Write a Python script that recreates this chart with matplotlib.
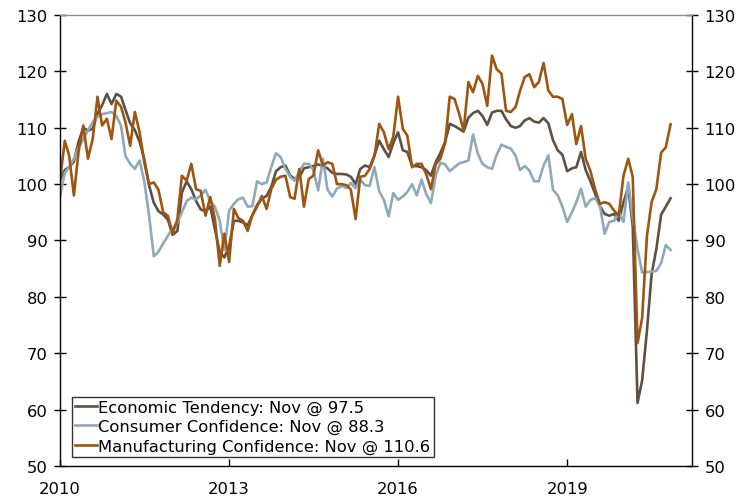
import matplotlib
matplotlib.use("Agg")
import matplotlib.pyplot as plt
import matplotlib.dates as mdates
import pandas as pd

# monthly readings, Jan 2010 .. Nov 2020
economic_tendency = [
    100.8, 102.5, 103, 104, 107.5, 110, 109.5, 109.8, 112.5, 114, 116, 114.2,
    116, 115.5, 113.2, 110.8, 109.6, 107.5, 104.5, 99.8, 96.7, 95.2, 94.6, 93.7,
    91, 91.7, 98.5, 100.5, 99.1, 97, 95.5, 95.2, 96, 92, 88, 87,
    89, 93.5, 93.5, 93.2, 92.7, 94.5, 96.3, 97.4, 97.9, 99.5, 102.3, 103,
    103.3, 101.5, 101, 101.2, 102.8, 103, 103.2, 103.5, 103.2, 102.8, 102, 101.8,
    101.8, 101.7, 101.3, 100, 102.7, 103.3, 103, 105.1, 107.7, 106.2, 104.8, 107.3,
    109.2, 106, 105.7, 103.2, 103.2, 103, 102.5, 101.5, 103.9, 105.5, 107.5, 110.7,
    110.3, 109.8, 109.3, 111.8, 112.6, 113, 112.1, 110.5, 112.7, 113, 113, 111.5,
    110.3, 110, 110.3, 111.3, 111.7, 111.1, 110.9, 111.7, 110.8, 107.8, 106, 105.2,
    102.3, 102.8, 103, 105.7, 102.5, 100.5, 98.3, 96.1, 94.7, 94.4, 94.7, 93.5,
    96.8, 99.5, 92.5, 61.2, 65.2, 74, 84, 88.5, 94.6, 96, 97.5,
]
consumer_confidence = [
    97.8, 102, 103, 104.5, 106.5, 108, 109.5, 111, 112, 112.4, 112.6, 112.8,
    112.1, 110.3, 105, 103.6, 102.7, 104.2, 100.5, 94.5, 87.2, 88, 89.5, 90.8,
    92.2, 93.2, 95, 97, 97.6, 97.3, 98, 99, 97, 96, 93.5, 88.3,
    95.3, 96.5, 97.3, 97.6, 96, 96.1, 100.5, 100, 100.3, 103, 105.5, 104.8,
    102.7, 101.3, 100.6, 102.2, 103.6, 103.6, 102.5, 98.9, 104.5, 99, 97.8, 99.2,
    99.7, 99.3, 100.2, 99.3, 100.8, 99.8, 99.7, 103, 98.7, 97.2, 94.3, 98.4,
    97.2, 97.8, 98.6, 100, 98, 100.8, 98.3, 96.6, 101.5, 103.8, 103.5, 102.3,
    103, 103.7, 103.9, 104.2, 108.8, 105.4, 103.6, 103, 102.7, 105.2, 107, 106.6,
    106.3, 105, 102.5, 103.2, 102.4, 100.5, 100.5, 103.3, 105.1, 99, 98, 96,
    93.3, 95, 96.8, 99.2, 96, 97.2, 97.5, 96.2, 91.2, 93.3, 93.5, 95,
    93.3, 100.3, 94, 88.5, 84.3, 84.4, 84.5, 84.6, 86, 89.2, 88.3,
]
manufacturing_confidence = [
    100.6, 107.7, 105.1, 98, 105.7, 110.4, 104.5, 108, 115.5, 110.4, 111.6, 108,
    114.8, 113.7, 111, 106.8, 112.8, 109.2, 103.9, 100, 100.3, 99, 95, 94.4,
    91.2, 93.8, 101.5, 100.6, 103.6, 99.1, 98.8, 94.4, 97.7, 93.8, 85.5, 91.2,
    86.2, 95.6, 94, 93.5, 91.7, 94.5, 96, 97.9, 95.6, 99.1, 100.8, 101.3,
    101.5, 97.7, 97.4, 102.7, 96, 100.9, 101.5, 106, 103.3, 103.9, 103.6, 100,
    100, 99.8, 99, 93.8, 101.3, 101.5, 102.7, 105, 110.7, 109.2, 106.2, 108.4,
    115.5, 109.8, 108.6, 103, 103.6, 103.6, 101.8, 99.1, 103.6, 104.5, 107.3, 115.5,
    115.1, 112.4, 109.5, 118.1, 116.3, 119.2, 117.8, 113.9, 122.8, 120.4, 119.6, 113,
    112.8, 113.7, 116.5, 119, 119.5, 117.2, 118.1, 121.5, 116.6, 115.5, 115.5, 115.1,
    110.5, 112.4, 107.1, 110.3, 104.5, 102.3, 99.1, 96.5, 96.8, 96.5, 95.3, 94.4,
    101.5, 104.5, 101.3, 71.8, 76.3, 90.8, 96.8, 99.1, 105.6, 106.5, 110.6,
]
dates = pd.date_range("2010-01-01", periods=len(economic_tendency), freq="MS")
year_ticks = ["2010", "2013", "2016", "2019"]
y_ticks = list(range(50, 131, 10))

plt.rcParams["font.family"] = ["DejaVu Sans"]
plt.rcParams["font.size"] = 11.8

fig = plt.figure(figsize=(7.52, 5.02), dpi=100)
ax = fig.add_axes([60 / 752, 1 - 467 / 502, 632 / 752, 451 / 502])

last = dates[-1].strftime("%b")
ax.plot(dates, economic_tendency, color="#5e5047", lw=1.9,
        label=f"Economic Tendency: {last} @ {economic_tendency[-1]}")
ax.plot(dates, consumer_confidence, color="#8ea9b9", lw=1.9,
        label=f"Consumer Confidence: {last} @ {consumer_confidence[-1]}")
ax.plot(dates, manufacturing_confidence, color="#9e550f", lw=1.9,
        label=f"Manufacturing Confidence: {last} @ {manufacturing_confidence[-1]}")

ax.set_ylim(50, 130)
ax.set_yticks(y_ticks)
ax.set_xlim(pd.Timestamp("2010-01-01"), pd.Timestamp("2021-03-20"))
ax.set_xticks([pd.Timestamp(y + "-01-01") for y in year_ticks])
ax.xaxis.set_major_formatter(mdates.DateFormatter("%Y"))

ax.tick_params(axis="y", which="both", direction="inout", length=8, width=1,
               left=True, right=True, labelleft=True, labelright=True, pad=5)
ax.tick_params(axis="x", direction="in", length=5, width=1, pad=11)

for s in ["left", "right", "bottom"]:
    ax.spines[s].set_color("black")
    ax.spines[s].set_linewidth(1)
ax.spines["top"].set_color("#8c8c8c")
ax.spines["top"].set_linewidth(1)

leg = ax.legend(loc="lower left", bbox_to_anchor=(0.019, 0.02), borderaxespad=0,
                frameon=True, fancybox=False, handlelength=1.3, handletextpad=0.1,
                labelspacing=0.25, borderpad=0.2)
leg.get_frame().set_edgecolor("black")
leg.get_frame().set_linewidth(1)

fig.savefig("out.png", dpi=100)
